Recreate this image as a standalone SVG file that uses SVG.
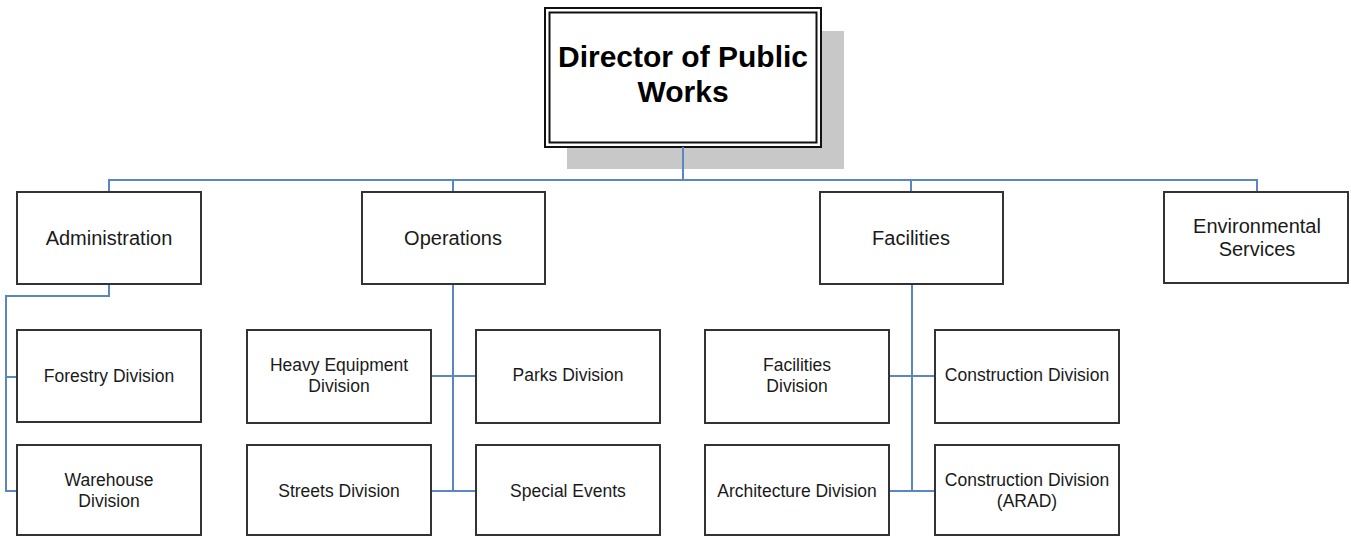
<svg xmlns="http://www.w3.org/2000/svg" width="1351" height="537" viewBox="0 0 1351 537">
<style>
.box{fill:#fff;stroke:#333;stroke-width:2}
.l1{font-family:"Liberation Sans",Arial,sans-serif;font-size:20px;fill:#1a1a1a;text-anchor:middle}
.l2{font-family:"Liberation Sans",Arial,sans-serif;font-size:17.5px;fill:#1a1a1a;text-anchor:middle}
.ttl{font-family:"Liberation Sans",Arial,sans-serif;font-size:30px;font-weight:bold;fill:#000;text-anchor:middle}
.conn{fill:none;stroke:#5a86c2;stroke-width:2}
</style>
<rect width="1351" height="537" fill="#fff"/>
<g id="director">
<rect x="567" y="31" width="277" height="138" fill="#c8c8c8"/>
<rect x="545" y="8" width="276" height="139" fill="#fff" stroke="#111" stroke-width="2"/>
<rect x="549.5" y="12.5" width="267" height="130" fill="none" stroke="#111" stroke-width="2"/>
<text class="ttl" x="683" y="67">Director of Public</text>
<text class="ttl" x="683" y="102">Works</text>
</g>
<g id="connectors">
<path class="conn" d="M683 147V180M109 192V180H1257V192M453 180V192M911 180V192"/>
<path class="conn" d="M109 284V296H6V491H17M6 377H17"/>
<path class="conn" d="M453 284V491M431 376H476M431 491H476"/>
<path class="conn" d="M912 284V491M889 376H935M889 491H935"/>
</g>
<g id="administration"><rect class="box" x="17" y="192" width="184" height="92"/><text class="l1" x="109" y="245">Administration</text></g>
<g id="operations"><rect class="box" x="362" y="192" width="183" height="92"/><text class="l1" x="453" y="245">Operations</text></g>
<g id="facilities"><rect class="box" x="820" y="192" width="183" height="92"/><text class="l1" x="911" y="245">Facilities</text></g>
<g id="environmental"><rect class="box" x="1164" y="192" width="184" height="91"/><text class="l1" x="1257" y="233">Environmental</text><text class="l1" x="1257" y="256">Services</text></g>
<g id="forestry"><rect class="box" x="17" y="330" width="184" height="92"/><text class="l2" x="109" y="382">Forestry Division</text></g>
<g id="warehouse"><rect class="box" x="17" y="445" width="184" height="90"/><text class="l2" x="109" y="486">Warehouse</text><text class="l2" x="109" y="507">Division</text></g>
<g id="heavy-equipment"><rect class="box" x="247" y="330" width="184" height="93"/><text class="l2" x="339" y="371">Heavy Equipment</text><text class="l2" x="339" y="392">Division</text></g>
<g id="parks"><rect class="box" x="476" y="330" width="184" height="93"/><text class="l2" x="568" y="381">Parks Division</text></g>
<g id="streets"><rect class="box" x="247" y="445" width="184" height="90"/><text class="l2" x="339" y="497">Streets Division</text></g>
<g id="special-events"><rect class="box" x="476" y="445" width="184" height="90"/><text class="l2" x="568" y="497">Special Events</text></g>
<g id="facilities-division"><rect class="box" x="705" y="330" width="184" height="93"/><text class="l2" x="797" y="371">Facilities</text><text class="l2" x="797" y="392">Division</text></g>
<g id="construction"><rect class="box" x="935" y="330" width="184" height="93"/><text class="l2" x="1027" y="381">Construction Division</text></g>
<g id="architecture"><rect class="box" x="705" y="445" width="184" height="90"/><text class="l2" x="797" y="497">Architecture Division</text></g>
<g id="construction-arad"><rect class="box" x="935" y="445" width="184" height="90"/><text class="l2" x="1027" y="486">Construction Division</text><text class="l2" x="1027" y="507">(ARAD)</text></g>
</svg>
